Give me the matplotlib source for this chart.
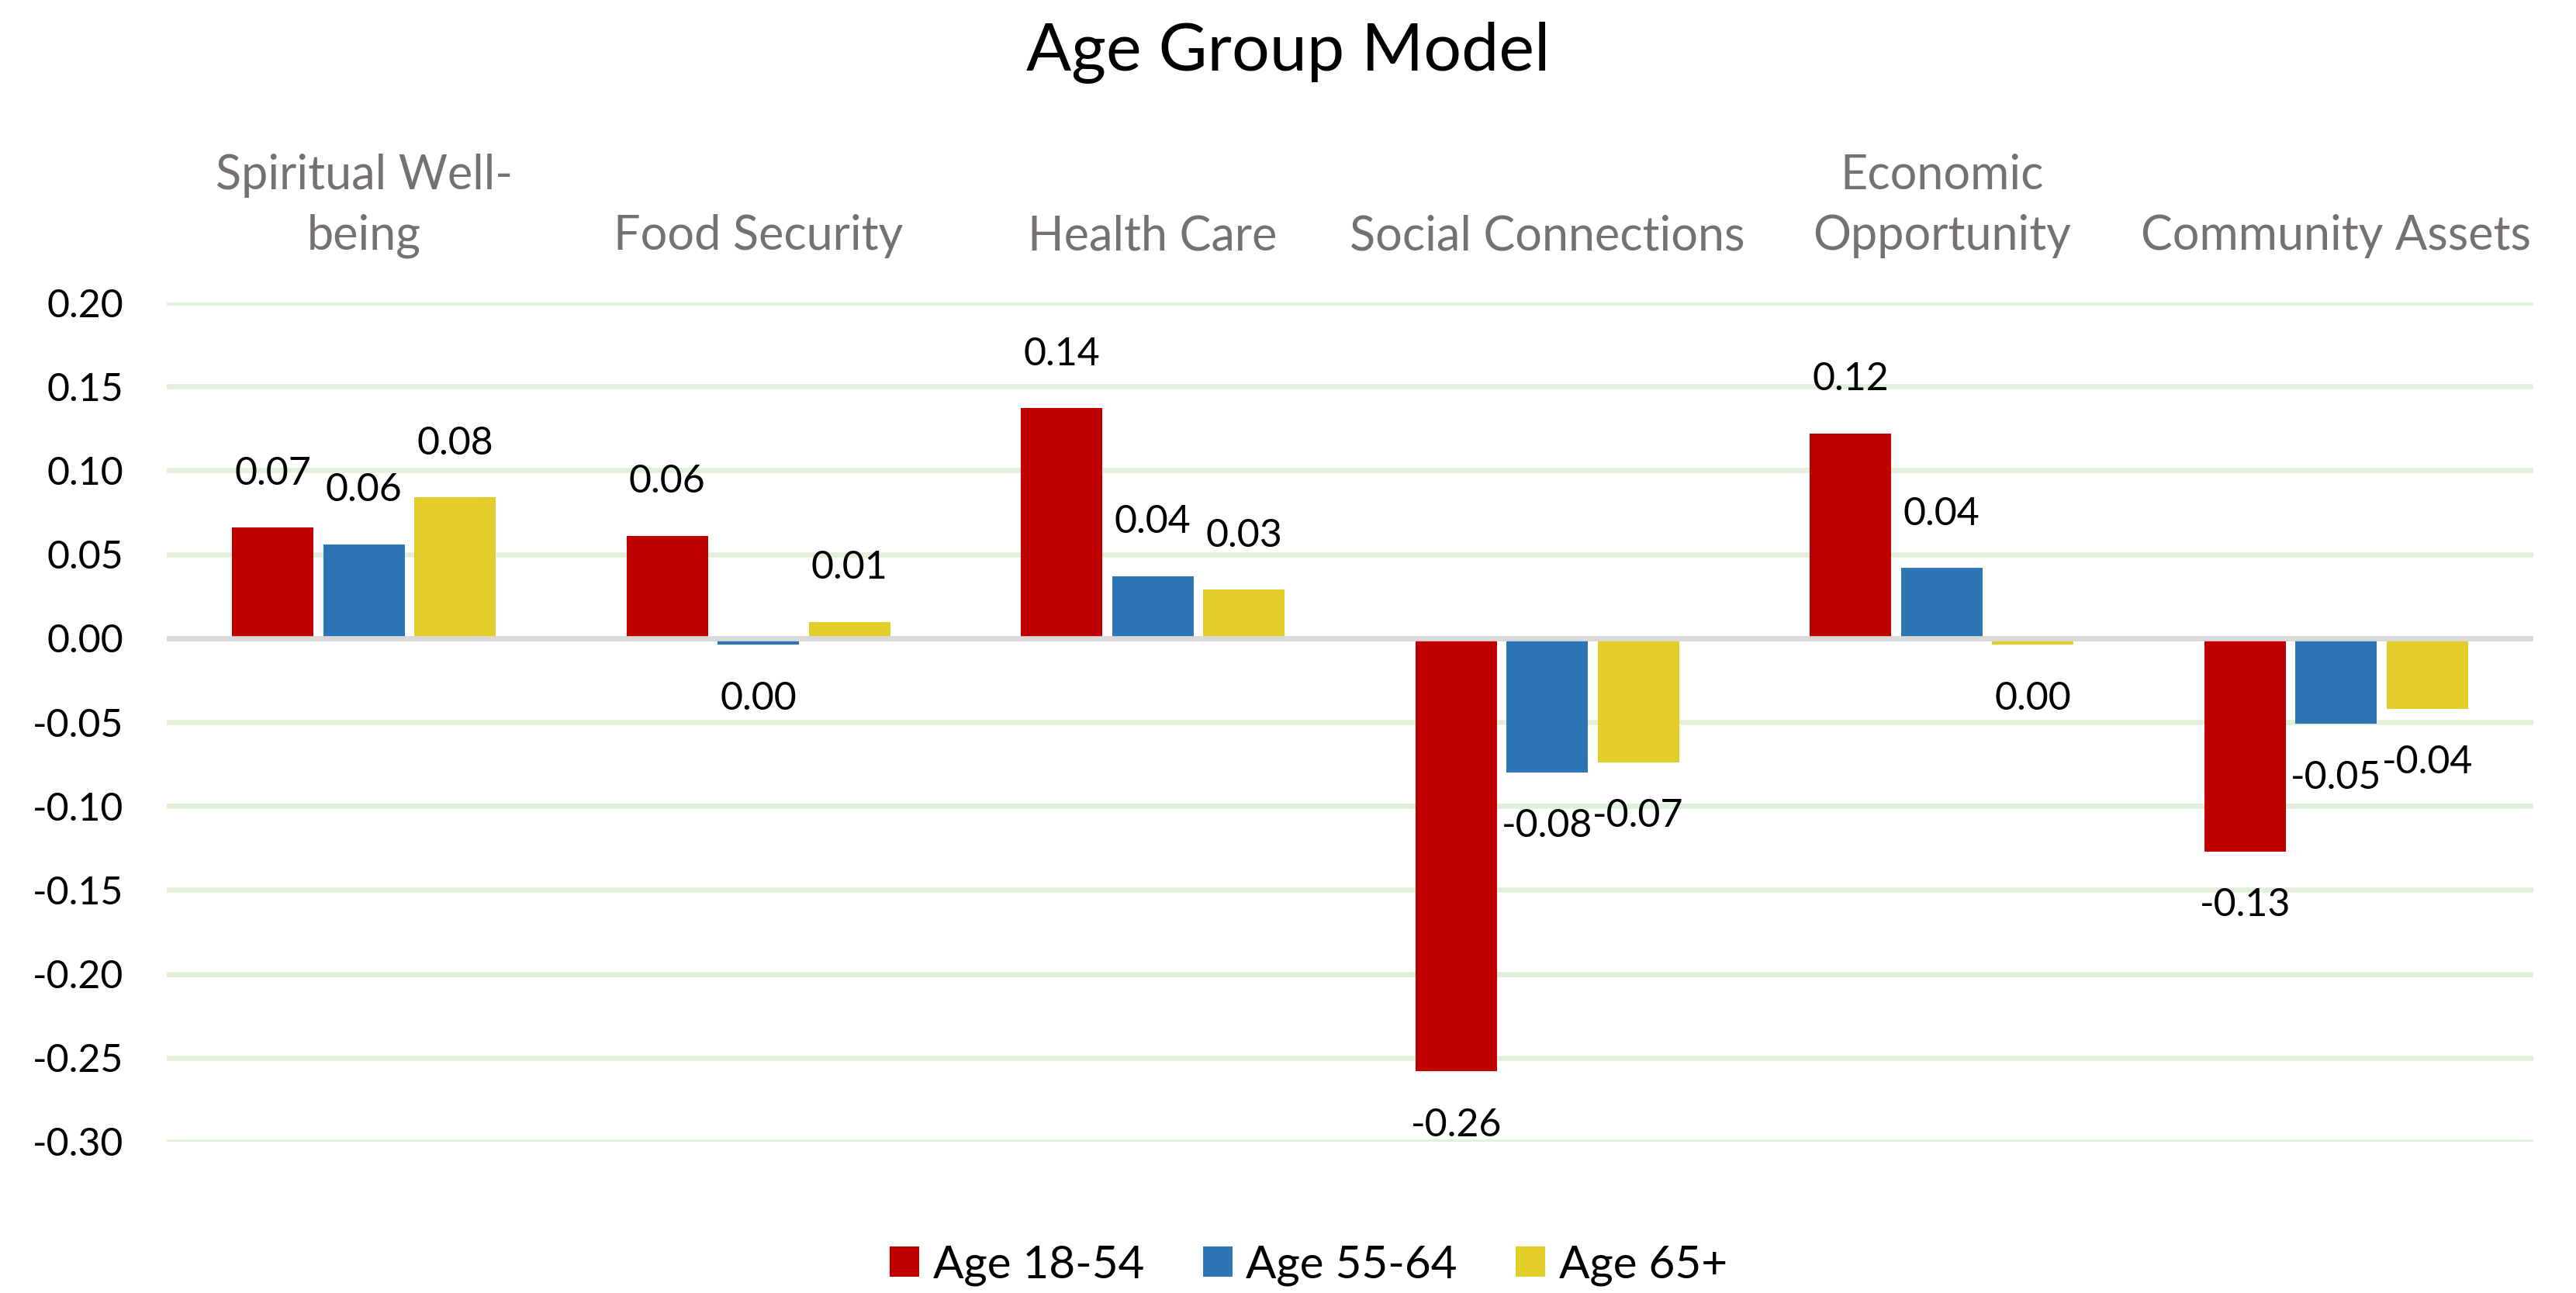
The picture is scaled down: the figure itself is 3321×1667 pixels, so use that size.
import matplotlib.pyplot as plt
from matplotlib.patches import Patch
import numpy as np

# --- data ---
categories = ["Spiritual Well-\nbeing", "Food Security", "Health Care",
              "Social Connections", "Economic\nOpportunity", "Community Assets"]
series_names = ["Age 18-54", "Age 55-64", "Age 65+"]
age_18_54 = [0.066, 0.061, 0.137, -0.258, 0.122, -0.127]
age_55_64 = [0.056, -0.004, 0.037, -0.080, 0.042, -0.051]
age_65_up = [0.084, 0.0098, 0.029, -0.074, -0.004, -0.042]
y_ticks = [-0.30, -0.25, -0.20, -0.15, -0.10, -0.05, 0.00, 0.05, 0.10, 0.15, 0.20]

# --- style ---
FONT = ["Lato", "DejaVu Sans"]
COLORS = ["#C00000", "#2E75B6", "#E2CD2B"]
GRID_COLOR = "#E2EFDA"
ZERO_COLOR = "#D9D9D9"
CAT_COLOR = "#767171"
BAR_WIDTH = 0.2065
BAR_STEP = 0.231

plt.rcParams["font.family"] = FONT

fig = plt.figure(figsize=(16.605, 8.335), dpi=200)
ax = fig.add_axes((0.0647, 0.117, 0.9187, 0.649))

x = np.arange(len(categories))
all_series = [age_18_54, age_55_64, age_65_up]
for i, (vals, color) in enumerate(zip(all_series, COLORS)):
    pos = x + (i - 1) * BAR_STEP
    ax.bar(pos, vals, width=BAR_WIDTH, color=color, zorder=2)
    for xp, v in zip(pos, vals):
        txt = f"{v:.2f}"
        if txt == "-0.00":
            txt = "0.00"
        off = 25 if v >= 0 else -25
        ax.annotate(txt, (xp, v), xytext=(0, off), textcoords="offset points",
                    ha="center", va="center", fontsize=18, color="black", zorder=4)

ax.set_xlim(-0.5, len(categories) - 0.5)
ax.set_ylim(-0.30, 0.20)
ax.set_yticks(y_ticks)
ax.set_yticklabels([f"{t:.2f}" for t in y_ticks])
ax.yaxis.grid(True, color=GRID_COLOR, linewidth=2.4, zorder=0)
ax.set_axisbelow(True)
ax.axhline(0, color=ZERO_COLOR, linewidth=2.4, zorder=3)

ax.set_xticks(x)
ax.set_xticklabels(categories, fontsize=22, color=CAT_COLOR, linespacing=1.45)
ax.xaxis.tick_top()
ax.tick_params(axis="x", length=0, pad=20.5)
ax.tick_params(axis="y", length=0, pad=20, labelsize=18, labelcolor="black")
for s in ax.spines.values():
    s.set_visible(False)

fig.suptitle("Age Group Model", fontsize=31, y=0.960, va="center")

handles = [Patch(facecolor=c, edgecolor="none") for c in COLORS]
fig.legend(handles, series_names, loc="center", bbox_to_anchor=(0.508, 0.0215),
           ncol=3, frameon=False, fontsize=21, handlelength=0.65, handleheight=0.65,
           handletextpad=0.3, columnspacing=1.3)

fig.savefig("out.png", dpi=200, facecolor="white")
